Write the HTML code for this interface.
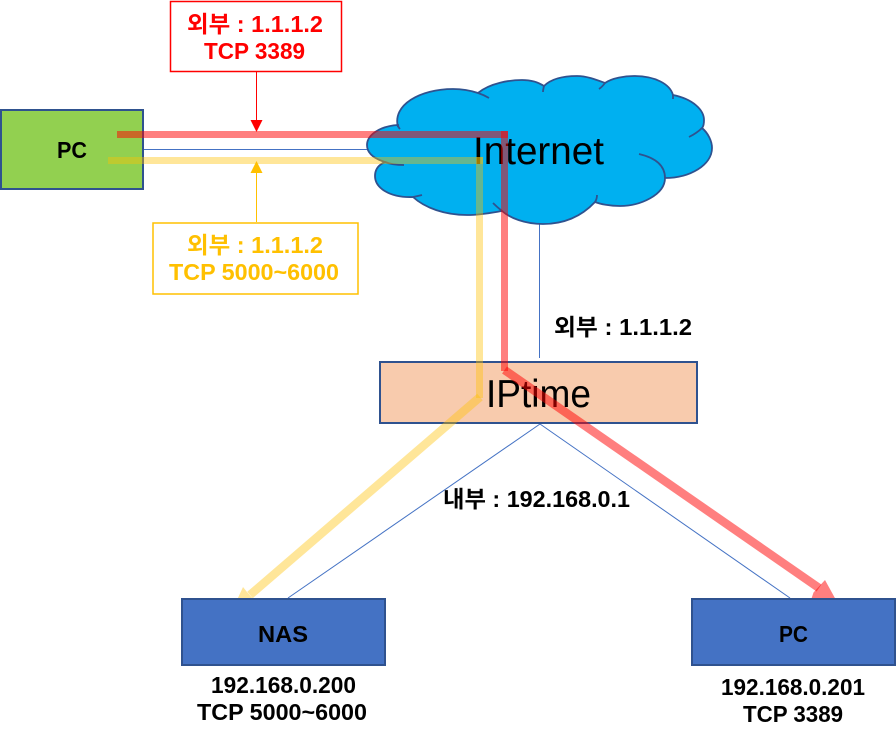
<!DOCTYPE html>
<html>
<head>
<meta charset="utf-8">
<style>
html,body{margin:0;padding:0;background:#fff;width:896px;height:743px;overflow:hidden}
svg{display:block}
text{font-family:"Liberation Sans","Noto Sans CJK KR",sans-serif}
.b{font-weight:700;font-size:23px}
.n{font-size:39px;fill:#000}
</style>
</head>
<body>
<svg width="896" height="743" viewBox="0 0 896 743" xmlns="http://www.w3.org/2000/svg">
<rect width="896" height="743" fill="#fff"/>
<!-- thin links -->
<g stroke="#4472c4" stroke-width="1" fill="none">
<line x1="143" y1="149.5" x2="380" y2="149.5"/>
<line x1="539.5" y1="220" x2="539.5" y2="358"/>
<line x1="540" y1="424" x2="288" y2="598"/>
<line x1="540" y1="424" x2="790" y2="598"/>
</g>
<!-- PC -->
<rect x="1" y="110" width="142" height="79" fill="#92d050" stroke="#2f528f" stroke-width="2"/>
<!-- cloud -->
<path d="M398,127 C392,105 420,89 453,89 C465,89 472,91 478,93 C490,83 510,80 522,80 C530,80 538,82 544,86 C552,78 565,76 577,76 C587,76 597,80 605,83 C612,78 625,76 634,76 C655,76 670,84 673,95 C693,99 704,110 704,120 C704,124 703,127 702,128 C708,133 712,141 712,148 C712,165 690,178 665,178 C665,195 640,206 620,206 C610,206 600,204 595,202 C580,218 562,224 543,224 C525,224 510,218 502,211 C490,213 480,215 467,215 C445,215 425,208 413,197 C390,198 375,188 375,176 C375,170 378,165 385,162 C372,158 367,152 367,145 C367,135 380,126 398,125 Z" fill="#00b0f0" stroke="#2f528f" stroke-width="1.8"/>
<g fill="none" stroke="#2f528f" stroke-width="1.8">
<path d="M478,93 Q484,95 489,98"/>
<path d="M544,86 Q543,90 543,92"/>
<path d="M605,83 Q602,87 599,89"/>
<path d="M673,95 L673,99"/>
<path d="M702,128 Q697,133 689,137"/>
<path d="M665,178 Q665,160 639,154"/>
<path d="M595,202 Q597,199 597,195"/>
<path d="M502,211 Q497,207 493,203"/>
<path d="M413,197 Q418,196 422,195"/>
<path d="M385,162 Q392,165 404,165"/>
<path d="M398,125 Q398,127 400,129"/>
</g>
<text class="n" x="473" y="164" textLength="131" lengthAdjust="spacingAndGlyphs">Internet</text>
<!-- IPtime -->
<rect x="380" y="362" width="317" height="61" fill="#f8cbad" stroke="#2f528f" stroke-width="2"/>
<text class="n" x="486" y="407" textLength="105" lengthAdjust="spacingAndGlyphs">IPtime</text>
<!-- callout arrows -->
<line x1="256.5" y1="72" x2="256.5" y2="121" stroke="#ff0000" stroke-width="1"/>
<polygon points="250.5,120 262.5,120 256.5,132" fill="#ff0000"/>
<line x1="256.5" y1="222" x2="256.5" y2="172" stroke="#ffc000" stroke-width="1"/>
<polygon points="250.5,173 262.5,173 256.5,161" fill="#ffc000"/>
<!-- route overlays -->
<g fill="none" stroke-linecap="butt">
<g stroke="#ff0000" stroke-opacity=".5" stroke-width="7">
<line x1="117" y1="134.5" x2="508" y2="134.5"/>
<line x1="504.5" y1="131" x2="504.5" y2="371"/>
</g>
<line x1="504.5" y1="370" x2="819" y2="588" stroke="#ff0000" stroke-opacity=".5" stroke-width="8.5"/>
<g stroke="#ffc000" stroke-opacity=".4" stroke-width="7">
<line x1="108" y1="160.5" x2="483" y2="160.5"/>
<line x1="479.5" y1="157" x2="479.5" y2="398"/>
</g>
<line x1="480" y1="397" x2="250" y2="595" stroke="#ffc000" stroke-opacity=".4" stroke-width="8.5"/>
</g>
<polygon points="825,580 836,600 811,600 813.5,592.5" fill="#ff0000" fill-opacity=".5"/>
<polygon points="243,587 247,592 254,600 237,600" fill="#ffc000" fill-opacity=".4"/>
<!-- bottom boxes -->
<rect x="182" y="599" width="203" height="66" fill="#4472c4" stroke="#2f528f" stroke-width="2"/>
<rect x="692" y="599" width="203" height="66" fill="#4472c4" stroke="#2f528f" stroke-width="2"/>
<!-- callout boxes -->
<rect x="170.5" y="1.5" width="171" height="70" fill="#fff" stroke="#ff0000" stroke-width="1.5"/>
<rect x="153" y="223" width="205" height="71" fill="#fff" stroke="#ffc000" stroke-width="1.5"/>
<!-- labels -->
<g>
<text class="b" fill="#ff0000" x="187" y="32" textLength="136" lengthAdjust="spacingAndGlyphs">외부 : 1.1.1.2</text>
<text class="b" fill="#ff0000" x="204" y="59" textLength="101" lengthAdjust="spacingAndGlyphs">TCP 3389</text>
<text class="b" fill="#ffc000" x="187" y="253" textLength="136" lengthAdjust="spacingAndGlyphs">외부 : 1.1.1.2</text>
<text class="b" fill="#ffc000" x="169" y="280" textLength="170" lengthAdjust="spacingAndGlyphs">TCP 5000~6000</text>
<text class="b" fill="#000" x="57" y="158" textLength="30" lengthAdjust="spacingAndGlyphs">PC</text>
<text class="b" fill="#000" x="554" y="335" textLength="138" lengthAdjust="spacingAndGlyphs">외부 : 1.1.1.2</text>
<text class="b" fill="#000" x="443" y="507" textLength="187" lengthAdjust="spacingAndGlyphs">내부 : 192.168.0.1</text>
<text class="b" fill="#000" x="258" y="642" textLength="50" lengthAdjust="spacingAndGlyphs">NAS</text>
<text class="b" fill="#000" x="779" y="642" textLength="29" lengthAdjust="spacingAndGlyphs">PC</text>
<text class="b" fill="#000" x="211" y="693" textLength="145" lengthAdjust="spacingAndGlyphs">192.168.0.200</text>
<text class="b" fill="#000" x="197" y="720" textLength="170" lengthAdjust="spacingAndGlyphs">TCP 5000~6000</text>
<text class="b" fill="#000" x="721" y="695" textLength="144" lengthAdjust="spacingAndGlyphs">192.168.0.201</text>
<text class="b" fill="#000" x="743" y="722" textLength="100" lengthAdjust="spacingAndGlyphs">TCP 3389</text>
</g>
</svg>
</body>
</html>
